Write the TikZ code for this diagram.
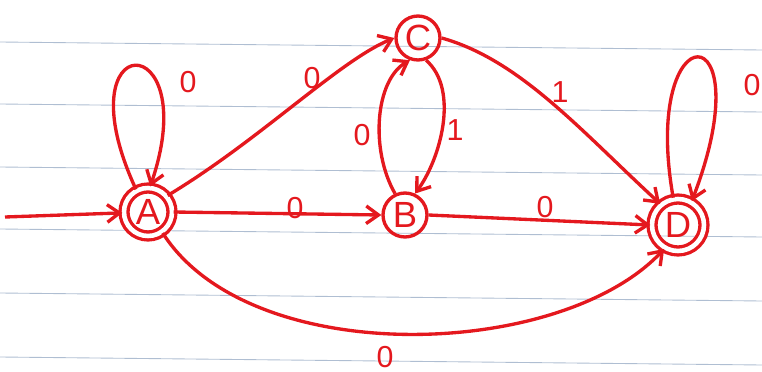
\documentclass[tikz,border=0pt]{standalone}
\usepackage{fontspec}
\setmainfont{Liberation Sans}
\usetikzlibrary{arrows.meta, positioning}

\definecolor{penred}{RGB}{228,24,30}
\definecolor{ruleblue}{RGB}{175,190,210}

\begin{document}
\begin{tikzpicture}[
    x=0.02cm, y=-0.02cm,
    font=\LARGE,
    state/.style={circle, draw=penred, line width=1.9pt, text=penred,
                  minimum size=0.88cm, inner sep=0pt, font=\huge},
    accept/.style={state, double, double distance=2.6pt, minimum size=0.96cm},
    lbl/.style={text=penred, inner sep=1pt},
    arr/.style={-{Straight Barb[length=7pt, width=10pt]}, draw=penred, line width=1.9pt},
    rule/.style={draw=ruleblue, line width=0.5pt},
  ]
  \useasboundingbox (0,0) rectangle (762,372);
  %% ruled paper
  \foreach \y in {42,104,167,229,293,357}
    \draw[rule] (0,\y) -- (762,\y+8);
  %% states
  \node[accept] (A) at (148,212) {A};
  \node[state] (B) at (405,215) {B};
  \node[state] (C) at (418,38) {C};
  \node[accept, minimum size=1.04cm] (D) at (678,225) {D};
  \coordinate (start) at (5,217);
  %% labels
  \node[lbl] (lAA) at (188,82) {0};
  \node[lbl] (lAC) at (312,78) {0};
  \node[lbl] (lAB) at (295,208) {0};
  \node[lbl] (lBC) at (362,135) {0};
  \node[lbl] (lCB) at (455,130) {1};
  \node[lbl] (lCD) at (560,92) {1};
  \node[lbl] (lBD) at (545,207) {0};
  \node[lbl] (lAD) at (385,357) {0};
  \node[lbl] (lDD) at (752,85) {0};
  %% transitions
  \draw[arr] (start) -- (A);
  \draw[arr] (A.118) .. controls (60,25) and (205,25) .. (A.85);
  \draw[arr] (A.40) .. controls (260,140) and (340,60) .. (C.west);
  \draw[arr] (A.east) -- (B.west);
  \draw[arr] (B.115) .. controls (370,150) and (375,80) .. (C.250);
  \draw[arr] (C.290) .. controls (460,90) and (440,160) .. (B.65);
  \draw[arr] (C.east) .. controls (520,60) and (580,130) .. (D.130);
  \draw[arr] (B.east) -- (D.west);
  \draw[arr] (A.305) .. controls (250,370) and (560,360) .. (D.240);
  \draw[arr] (D.100) .. controls (640,10) and (765,10) .. (D.60);
\end{tikzpicture}
\end{document}
